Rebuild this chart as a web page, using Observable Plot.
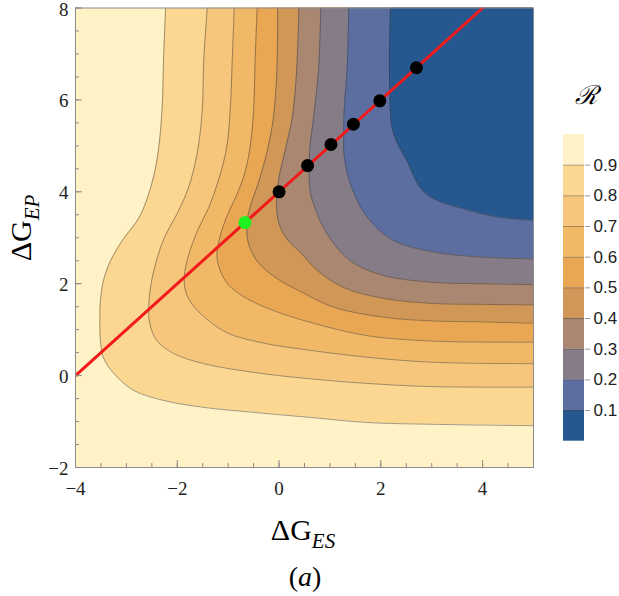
<!DOCTYPE html>
<html><head><meta charset="utf-8">
<script src="https://cdn.jsdelivr.net/npm/d3@7"></script>
<script src="https://cdn.jsdelivr.net/npm/@observablehq/plot@0.6"></script>
<style>
body{margin:0;background:#fff;}
#wrap{position:relative;width:619px;height:596px;overflow:hidden;font-family:"Liberation Serif",serif;color:#000;}
#main,#bar{position:absolute;top:0;}
#main{left:0;}
#bar{left:530px;}
#main svg,#bar svg{overflow:visible;}
.lab{position:absolute;transform:translate(-50%,-50%);white-space:nowrap;line-height:1;}
.sub{font-style:italic;position:relative;top:8px;}
</style></head><body>
<div id="wrap">
  <div id="main"></div>
  <div id="bar"></div>
  <div class="lab" style="left:303px;top:530px;font-size:30px">ΔG<span class="sub" style="font-size:21px">ES</span></div>
  <div class="lab" style="left:305px;top:577px;font-size:28px">(<i>a</i>)</div>
  <div class="lab" style="left:21px;top:228px;font-size:30px;transform:translate(-50%,-50%) rotate(-90deg)">ΔG<span class="sub" style="font-size:21px">EP</span></div>
  <div class="lab" style="left:586px;top:95px;font-size:26px;font-family:'DejaVu Serif',serif;font-style:italic">ℛ</div>
</div>
<script>
// ---- data ----
const xDomain = [-4, 5];
const yDomain = [-2, 8];
const xTicks = [-4, -2, 0, 2, 4];
const yTicks = [-2, 0, 2, 4, 6, 8];
const xMinor = [-4,-3.5,-3,-2.5,-2,-1.5,-1,-0.5,0,0.5,1,1.5,2,2.5,3,3.5,4,4.5,5];
const yMinor = [-2,-1.5,-1,-0.5,0,0.5,1,1.5,2,2.5,3,3.5,4,4.5,5,5.5,6,6.5,7,7.5,8];
const levels = [0.1, 0.2, 0.3, 0.4, 0.5, 0.6, 0.7, 0.8, 0.9];
const levelLabels = ["0.1","0.2","0.3","0.4","0.5","0.6","0.7","0.8","0.9"];
const bandLo = [0, 0.1, 0.2, 0.3, 0.4, 0.5, 0.6, 0.7, 0.8, 0.9];
const bandHi = [0.1, 0.2, 0.3, 0.4, 0.5, 0.6, 0.7, 0.8, 0.9, 1.0];
const bandColors = ["#26578e","#5b6e9f","#857c87","#a98770","#d09756","#e9a653","#f1b967","#f6c67c","#fcd792","#fef2c6"];

// contour lines (ΔG_ES, ΔG_EP)
const c01 = [[2.19,8],[2.17,6.86],[2.18,5.99],[2.22,5.40],[2.32,5.07],[2.51,4.68],[2.77,4.10],[3.03,3.85],[3.62,3.63],[4.29,3.45],[5,3.38]];
const c02 = [[1.37,8],[1.34,6.71],[1.28,5.77],[1.27,5.23],[1.28,4.79],[1.40,4.18],[1.73,3.45],[2.25,2.94],[3.04,2.69],[3.95,2.58],[5,2.54]];
const c03 = [[0.82,8],[0.78,6.71],[0.68,5.62],[0.61,5.01],[0.59,4.46],[0.61,4.03],[0.69,3.70],[0.94,3.09],[1.40,2.50],[2.05,2.18],[3.03,2.03],[3.95,2.00],[5,1.98]];
const c04 = [[0.39,8],[0.35,6.71],[0.26,5.62],[0.12,4.90],[-0.01,4.25],[-0.05,3.70],[0.01,3.27],[0.18,2.94],[0.42,2.68],[0.75,2.29],[1.26,1.92],[2.05,1.68],[3.03,1.57],[3.95,1.55],[5,1.54]];
const c05 = [[-0.03,8],[-0.04,6.71],[-0.11,5.62],[-0.23,4.90],[-0.41,4.18],[-0.56,3.70],[-0.63,3.33],[-0.60,2.87],[-0.41,2.46],[-0.01,2.09],[0.42,1.83],[1.07,1.49],[2.05,1.27],[3.03,1.19],[3.95,1.17],[5,1.14]];
const c06 = [[-0.43,8],[-0.47,6.86],[-0.50,5.77],[-0.56,5.05],[-0.66,4.46],[-0.82,3.96],[-1.02,3.48],[-1.17,2.98],[-1.22,2.61],[-1.17,2.33],[-1.00,1.98],[-0.64,1.68],[-0.07,1.40],[0.61,1.16],[1.73,0.87],[3.04,0.75],[5,0.73]];
const c07 = [[-0.88,8],[-0.92,6.86],[-0.96,5.77],[-1.03,4.96],[-1.19,4.25],[-1.38,3.66],[-1.60,3.16],[-1.78,2.61],[-1.86,2.18],[-1.84,1.85],[-1.72,1.57],[-1.43,1.24],[-1.00,0.92],[-0.27,0.70],[0.42,0.58],[1.73,0.40],[3.04,0.29],[5,0.26]];
const c08 = [[-1.41,8],[-1.48,6.86],[-1.51,5.77],[-1.61,4.83],[-1.78,4.09],[-2.00,3.53],[-2.25,3.01],[-2.42,2.46],[-2.52,1.96],[-2.56,1.53],[-2.54,1.13],[-2.40,0.76],[-2.07,0.48],[-1.48,0.26],[-0.50,0.07],[0.52,-0.06],[1.73,-0.17],[3.03,-0.24],[5,-0.25]];
const c09 = [[-2.23,8],[-2.27,6.86],[-2.30,5.77],[-2.40,4.68],[-2.56,3.96],[-2.75,3.44],[-3.08,2.94],[-3.31,2.50],[-3.45,2.07],[-3.51,1.63],[-3.52,1.35],[-3.51,0.76],[-3.45,0.39],[-3.25,0.05],[-2.86,-0.32],[-2.27,-0.54],[-1.49,-0.69],[-0.50,-0.80],[0.61,-0.91],[1.73,-1.02],[3.03,-1.06],[5,-1.09]];

// red line and points
const redX = [-4, 4];
const redY = [0, 8];
const blackX = [0, 0.56, 1.02, 1.46, 1.98, 2.70];
const blackY = [4.0, 4.57, 5.03, 5.47, 5.98, 6.70];
const greenX = [-0.67];
const greenY = [3.33];

// ---- chart ----
const contours = [c01, c02, c03, c04, c05, c06, c07, c08, c09];
const tickColor = "#8c8c8c";
const fmt = d => (d < 0 ? "\u2212" : "") + Math.abs(d);
const serif = "Liberation Serif";

const areaMarks = contours.map((c, i) => ({c, i})).reverse().map(({c, i}) =>
  Plot.areaX(c, {y: d => d[1], x1: d => d[0], x2: () => xDomain[1], fill: bandColors[i], curve: "catmull-rom", clip: true})
);
const lineMarks = contours.map(c =>
  Plot.line(c, {x: d => d[0], y: d => d[1], stroke: "#3c3c3c", strokeOpacity: 0.6, strokeWidth: 0.8, curve: "catmull-rom", clip: true})
);
const redRows = redX.map((x, k) => ({x, y: redY[k]}));
const blackRows = blackX.map((x, k) => ({x, y: blackY[k]}));
const greenRows = greenX.map((x, k) => ({x, y: greenY[k]}));

const main = Plot.plot({
  width: 619, height: 500,
  marginLeft: 75, marginRight: 86, marginTop: 7.5, marginBottom: 33,
  x: {domain: xDomain, axis: null},
  y: {domain: yDomain, axis: null},
  style: {background: "transparent", color: "#000", overflow: "visible"},
  marks: [
    Plot.frame({fill: bandColors[9], stroke: null}),
    ...areaMarks,
    ...lineMarks,
    Plot.line(redRows, {x: "x", y: "y", stroke: "#f21a1a", strokeWidth: 3, clip: true}),
    Plot.dot(blackRows, {x: "x", y: "y", r: 6.5, fill: "#000", stroke: null}),
    Plot.dot(greenRows, {x: "x", y: "y", r: 6.5, fill: "#1ff01f", stroke: null}),
    Plot.frame({stroke: tickColor, strokeWidth: 1}),
    Plot.axisX(xMinor, {tickSize: -4, tickFormat: () => "", stroke: tickColor, label: null}),
    Plot.axisY(yMinor, {tickSize: -4, tickFormat: () => "", stroke: tickColor, label: null}),
    Plot.axisX(xTicks, {tickSize: -7, tickFormat: () => "", stroke: tickColor, label: null}),
    Plot.axisY(yTicks, {tickSize: -7, tickFormat: () => "", stroke: tickColor, label: null}),
    Plot.text(xTicks, {x: d => d, y: () => yDomain[0], text: fmt, dy: 21, lineAnchor: "middle",
      fontFamily: serif, fontSize: 19, fill: "#222"}),
    Plot.text(yTicks, {x: () => xDomain[0], y: d => d, text: fmt, dx: -7, dy: 1.5, textAnchor: "end", lineAnchor: "middle",
      fontFamily: serif, fontSize: 19, fill: "#222"})
  ]
});
document.getElementById("main").appendChild(main);

const bandRows = bandLo.map((lo, k) => ({lo, hi: bandHi[k], color: bandColors[k]}));
const bar = Plot.plot({
  width: 89, height: 450,
  marginLeft: 33, marginRight: 35, marginTop: 134, marginBottom: 9.3,
  x: {domain: [0, 1], axis: null},
  y: {domain: [0, 1], axis: null},
  color: {type: "identity"},
  style: {background: "transparent", color: "#222"},
  marks: [
    Plot.rect(bandRows, {x1: 0, x2: 1, y1: "lo", y2: "hi", fill: "color"}),
    Plot.ruleY(levels, {stroke: "#3c3c3c", strokeOpacity: 0.5, strokeWidth: 0.8}),
    Plot.axisY(levels, {anchor: "right", tickSize: 5, tickFormat: () => "", stroke: "#999", label: null}),
    Plot.text(levels, {x: () => 1, y: d => d, text: (d, k) => levelLabels[k], dx: 9, textAnchor: "start", lineAnchor: "middle",
      fontFamily: "Liberation Sans", fontSize: 17, fill: "#222"})
  ]
});
document.getElementById("bar").appendChild(bar);
</script>
</body></html>
